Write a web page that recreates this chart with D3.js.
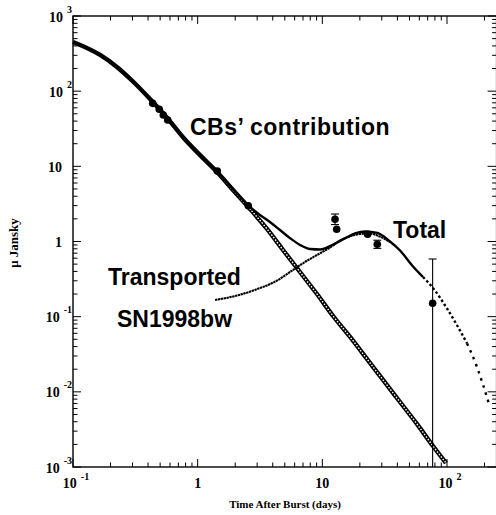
<!DOCTYPE html>
<html>
<head>
<meta charset="utf-8">
<script src="https://cdn.jsdelivr.net/npm/d3@7"></script>
<style>
  body { margin: 0; background: #ffffff; }
  svg { display: block; }
</style>
</head>
<body>
<svg id="canvas"></svg>
<script>

// Cannonball (CB) contribution.
var cbDays = [0.1, 0.165, 0.225, 0.3, 0.415, 0.57, 0.76, 1.04, 1.43, 1.92, 2.63, 3.6, 4.84, 6.62, 9.06, 12.2, 16.7, 22.8, 30.7, 42, 57.4, 77.2, 98.2];
var cbFlux = [451, 303, 210, 136.5, 78.7, 44.0, 24.6, 14.2, 8.41, 4.85, 2.71, 1.47, 0.771, 0.393, 0.200, 0.102, 0.0537, 0.0274, 0.0144, 0.00733, 0.00374, 0.0019, 0.00113];

// Total (CBs + SN) curve, small filled dots.
var totalDays = [0.1, 0.165, 0.225, 0.3, 0.415, 0.57, 0.76, 1.04, 1.43, 1.92, 2.63, 3.16, 3.80, 4.58, 5.50, 6.62, 7.96, 9.58, 12.2, 15.3, 18.3, 22.1, 27.6, 34.9, 42.0, 53.4, 64.2, 77.2, 100, 120, 145, 174, 195, 221];
var totalFlux = [451, 303, 210, 136.5, 78.7, 44.0, 24.6, 14.2, 8.55, 5.0, 2.88, 2.25, 1.82, 1.42, 1.11, 0.90, 0.795, 0.783, 0.91, 1.11, 1.28, 1.36, 1.30, 1.00, 0.76, 0.465, 0.337, 0.241, 0.1285, 0.0775, 0.044, 0.0214, 0.0123, 0.0063];

// Transported SN1998bw light curve.
var snDays = [1.38, 1.99, 2.88, 4.17, 5.82, 7.26, 9.06, 11.5, 13.9, 16.7, 20.0, 24.1, 29.0, 35.0];
var snFlux = [0.167, 0.188, 0.227, 0.292, 0.418, 0.534, 0.661, 0.83, 1.03, 1.17, 1.26, 1.28, 1.16, 0.98];

// Measured points with error bars (null = no bar).
var obsDays  = [0.436, 0.492, 0.530, 0.575, 1.437, 2.548, 12.64, 13.04, 23.1, 27.6, 76.7];
var obsFlux  = [68.9, 57.4, 48.2, 41.4, 8.67, 2.995, 1.974, 1.453, 1.247, 0.918, 0.151];
var obsErrHi = [null, null, null, null, null, null, 2.32, null, null, 1.04, 0.585];
var obsErrLo = [null, null, null, null, null, null, 1.68, null, null, 0.81, 0.001];

// Axis labels.
var xLabelVals = [0.1, 1, 10, 100];
var xLabelBase = ['10', '1', '10', '10'];
var xLabelExp  = ['-1', '', '', '2'];
var yLabelVals = [0.001, 0.01, 0.1, 1, 10, 100, 1000];
var yLabelBase = ['10', '10', '10', '1', '10', '10', '10'];
var yLabelExp  = ['-3', '-2', '-1', '', '', '2', '3'];

// Canvas settings.
var canvas = {
  w: 496,
  h: 515,
  plot: { left: 73, right: 496.6, top: 16, bottom: 467 }
};

var svg = d3.select('#canvas')
            .attr('width', canvas.w)
            .attr('height', canvas.h);

svg.append('rect')
   .attr('width', canvas.w)
   .attr('height', canvas.h)
   .attr('fill', '#ffffff');

// Log scales.
var x = d3.scaleLog()
          .domain([0.1, 250])
          .range([canvas.plot.left, canvas.plot.right]);

var y = d3.scaleLog()
          .domain([0.001, 1000])
          .range([canvas.plot.bottom, canvas.plot.top]);

var line = d3.line()
             .x(function(d) { return x(d.t); })
             .y(function(d) { return y(d.v); })
             .curve(d3.curveMonotoneX);

var zip = function(ts, vs) {
  return ts.map(function(t, i) { return { t: t, v: vs[i] }; });
};

var plot = svg.append('g');

// CB contribution: chain of open squares.
var cb = zip(cbDays, cbFlux);
plot.append('path')
    .attr('d', line(cb))
    .attr('fill', 'none')
    .attr('stroke', '#000')
    .attr('stroke-width', 4.4);
plot.append('path')
    .attr('d', line(cb))
    .attr('fill', 'none')
    .attr('stroke', '#fff')
    .attr('stroke-width', 1.4)
    .attr('stroke-dasharray', '1.5,1.6');

// SN1998bw curve.
plot.append('path')
    .attr('d', line(zip(snDays, snFlux)))
    .attr('fill', 'none')
    .attr('stroke', '#000')
    .attr('stroke-width', 2.1)
    .attr('stroke-dasharray', '2.4,0.5');

// Total curve: dense early, sparse dots late.
var total = zip(totalDays, totalFlux);
var segs = [
  { lo: 0, hi: 64.2, dash: null },
  { lo: 64.2, hi: 145, dash: '2.5,2.4' },
  { lo: 145, hi: 1000, dash: '2.5,5' }
];
segs.forEach(function(s) {
  var part = total.filter(function(d) { return d.t >= s.lo && d.t <= s.hi; });
  var p = plot.append('path')
              .attr('d', line(part))
              .attr('fill', 'none')
              .attr('stroke', '#000')
              .attr('stroke-width', 2.4);
  if (s.dash) { p.attr('stroke-dasharray', s.dash); }
});

// Observations.
var obs = obsDays.map(function(t, i) {
  return { t: t, v: obsFlux[i], hi: obsErrHi[i], lo: obsErrLo[i] };
});

var bars = obs.filter(function(d) { return d.hi !== null; });

plot.selectAll('line.err')
    .data(bars)
    .enter()
    .append('line')
    .attr('class', 'err')
    .attr('x1', function(d) { return x(d.t); })
    .attr('x2', function(d) { return x(d.t); })
    .attr('y1', function(d) { return y(d.hi); })
    .attr('y2', function(d) { return y(d.lo); })
    .attr('stroke', '#000')
    .attr('stroke-width', 1.1);

plot.selectAll('line.caphi')
    .data(bars)
    .enter()
    .append('line')
    .attr('x1', function(d) { return x(d.t) - 4; })
    .attr('x2', function(d) { return x(d.t) + 4; })
    .attr('y1', function(d) { return y(d.hi); })
    .attr('y2', function(d) { return y(d.hi); })
    .attr('stroke', '#000')
    .attr('stroke-width', 1.1);

plot.selectAll('line.caplo')
    .data(bars.filter(function(d) { return d.lo > 0.0011; }))
    .enter()
    .append('line')
    .attr('x1', function(d) { return x(d.t) - 4; })
    .attr('x2', function(d) { return x(d.t) + 4; })
    .attr('y1', function(d) { return y(d.lo); })
    .attr('y2', function(d) { return y(d.lo); })
    .attr('stroke', '#000')
    .attr('stroke-width', 1.1);

plot.selectAll('circle')
    .data(obs)
    .enter()
    .append('circle')
    .attr('cx', function(d) { return x(d.t); })
    .attr('cy', function(d) { return y(d.v); })
    .attr('r', 3.8)
    .attr('fill', '#000');

////////////////////////////////////////////////////////////////////////////////
// Frame and ticks
////////////////////////////////////////////////////////////////////////////////
var isMajor = function(d) {
  var l = Math.log10(d);
  return Math.abs(l - Math.round(l)) < 1e-6;
};

var axes = svg.append('g').attr('stroke', '#000').attr('stroke-width', 1);

var xt = x.ticks();
var yt = y.ticks();

// Bottom and top ticks point inward.
axes.selectAll('line.xb')
    .data(xt)
    .enter()
    .append('line')
    .attr('x1', function(d) { return x(d); })
    .attr('x2', function(d) { return x(d); })
    .attr('y1', canvas.plot.bottom)
    .attr('y2', function(d) { return canvas.plot.bottom - (isMajor(d) ? 8 : 4.5); });

axes.selectAll('line.xt')
    .data(xt)
    .enter()
    .append('line')
    .attr('x1', function(d) { return x(d); })
    .attr('x2', function(d) { return x(d); })
    .attr('y1', canvas.plot.top)
    .attr('y2', function(d) { return canvas.plot.top + (isMajor(d) ? 8 : 4.5); });

// Left and right ticks point inward.
axes.selectAll('line.yl')
    .data(yt)
    .enter()
    .append('line')
    .attr('y1', function(d) { return y(d); })
    .attr('y2', function(d) { return y(d); })
    .attr('x1', canvas.plot.left)
    .attr('x2', function(d) { return canvas.plot.left + (isMajor(d) ? 8 : 4.5); });

axes.selectAll('line.yr')
    .data(yt)
    .enter()
    .append('line')
    .attr('y1', function(d) { return y(d); })
    .attr('y2', function(d) { return y(d); })
    .attr('x1', canvas.plot.right)
    .attr('x2', function(d) { return canvas.plot.right - (isMajor(d) ? 9 : 4.5); });

svg.append('rect')
   .attr('x', canvas.plot.left)
   .attr('y', canvas.plot.top)
   .attr('width', canvas.plot.right - canvas.plot.left)
   .attr('height', canvas.plot.bottom - canvas.plot.top)
   .attr('fill', 'none')
   .attr('stroke', '#000')
   .attr('stroke-width', 1.4);

////////////////////////////////////////////////////////////////////////////////
// Tick labels
////////////////////////////////////////////////////////////////////////////////
var serif = '"Liberation Serif", "Times New Roman", serif';
var sans = '"Liberation Sans", Arial, sans-serif';

xLabelVals.forEach(function(v, i) {
  var t = svg.append('text')
             .attr('x', x(v) + (xLabelExp[i] ? 3 : 0))
             .attr('y', canvas.plot.bottom + 21)
             .attr('text-anchor', 'middle')
             .attr('font-family', serif)
             .attr('font-weight', 'bold')
             .attr('font-size', 14)
             .text(xLabelBase[i]);
  if (xLabelExp[i]) {
    t.append('tspan')
     .attr('dx', 4)
     .attr('dy', -8)
     .attr('font-size', 10)
     .text(xLabelExp[i]);
  }
});

yLabelVals.forEach(function(v, i) {
  var t = svg.append('text')
             .attr('x', yLabelExp[i] ? 72 : 62)
             .attr('y', y(v) + 5.5)
             .attr('text-anchor', 'end')
             .attr('font-family', serif)
             .attr('font-weight', 'bold')
             .attr('font-size', 14)
             .text(yLabelBase[i]);
  if (yLabelExp[i]) {
    t.append('tspan')
     .attr('dx', 4)
     .attr('dy', -9)
     .attr('font-size', 10)
     .text(yLabelExp[i]);
  }
});

// Axis titles.
svg.append('text')
   .attr('x', 285)
   .attr('y', 508)
   .attr('text-anchor', 'middle')
   .attr('font-family', serif)
   .attr('font-weight', 'bold')
   .attr('font-size', 11)
   .text('Time After Burst (days)');

svg.append('text')
   .attr('transform', 'translate(18,243) rotate(-90)')
   .attr('text-anchor', 'middle')
   .attr('font-family', serif)
   .attr('font-weight', 'bold')
   .attr('font-size', 13)
   .text('\u03bc Jansky');

// Curve annotations.
var notes = [
  { text: 'CBs\u2019 contribution', x: 190, y: 135, ls: 0.5 },
  { text: 'Total', x: 393, y: 238, ls: 0 },
  { text: 'Transported', x: 108, y: 285, ls: 0 },
  { text: 'SN1998bw', x: 117, y: 327, ls: 0 }
];

svg.selectAll('text.note')
   .data(notes)
   .enter()
   .append('text')
   .attr('class', 'note')
   .attr('x', function(d) { return d.x; })
   .attr('y', function(d) { return d.y; })
   .attr('font-family', sans)
   .attr('font-weight', 'bold')
   .attr('font-size', 23)
   .attr('letter-spacing', function(d) { return d.ls; })
   .text(function(d) { return d.text; });

</script>
</body>
</html>
